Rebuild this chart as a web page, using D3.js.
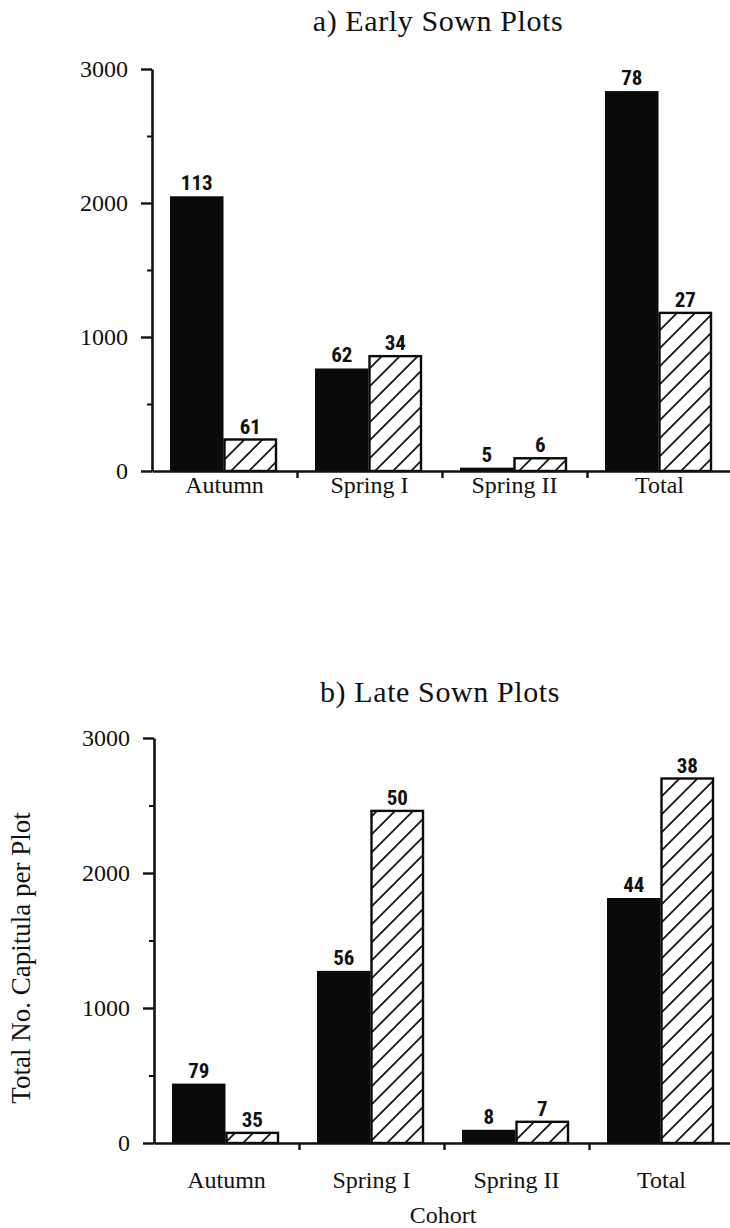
<!DOCTYPE html>
<html>
<head>
<meta charset="utf-8">
<script src="https://cdn.jsdelivr.net/npm/d3@7/dist/d3.min.js"></script>
<style>
  html, body { margin: 0; padding: 0; background: #fff; }
  svg { display: block; }
</style>
</head>
<body>
<svg id="chart" width="730" height="1228"></svg>
<script>
// Cohorts on the x axis
const cohorts = ["Autumn", "Spring I", "Spring II", "Total"];

// a) Early sown plots: capitula per plot (solid and hatched bars)
const earlySolid = [2050, 765, 25, 2835];
const earlyHatched = [235, 857, 95, 1180];
const earlySolidLabels = ["113", "62", "5", "78"];
const earlyHatchedLabels = ["61", "34", "6", "27"];

// b) Late sown plots
const lateSolid = [440, 1275, 98, 1815];
const lateHatched = [75, 2460, 157, 2700];
const lateSolidLabels = ["79", "56", "8", "44"];
const lateHatchedLabels = ["35", "50", "7", "38"];

// Axis ticks
const yTicks = [0, 1000, 2000, 3000];
const yMinorTicks = [500, 1500, 2500];
const yMax = 3000;

const SERIF = '"Liberation Serif", "Times New Roman", Times, serif';
const NARROW = '"Roboto Condensed", "Liberation Sans", sans-serif';
const INK = "#111";

const svg = d3.select("#chart");

// Diagonal hatching for the second bar of each pair
const defs = svg.append("defs");
const pat = defs.append("pattern")
  .attr("id", "hatch")
  .attr("patternUnits", "userSpaceOnUse")
  .attr("width", 18).attr("height", 18);
pat.append("rect").attr("width", 18).attr("height", 18).attr("fill", "#fff");
pat.append("path")
  .attr("d", "M0,18 L18,0 M-4.5,4.5 L4.5,-4.5 M13.5,22.5 L22.5,13.5")
  .attr("stroke", INK).attr("stroke-width", 1.7);

function serifText(sel, size) {
  return sel.style("font-family", SERIF).style("font-size", size + "px").attr("fill", INK);
}

function panel(cfg) {
  const g = svg.append("g");

  const x = d3.scaleBand().domain(cohorts).range([cfg.left, cfg.left + 4 * cfg.band]);
  const xs = d3.scaleBand().domain(["solid", "hatched"]).range([18, 125]);
  const y = d3.scaleLinear().domain([0, yMax]).range([cfg.bottom, cfg.top]);
  const xb = d3.scaleLinear().domain([0, 4]).range([cfg.left, cfg.left + 4 * cfg.band]);

  // Title
  serifText(g.append("text"), 30)
    .attr("x", cfg.titleX).attr("y", cfg.titleY)
    .attr("text-anchor", "middle")
    .style("letter-spacing", "0.6px")
    .text(cfg.title);

  const rows = cohorts.map((c, i) => ({
    c, solid: cfg.solid[i], hatched: cfg.hatched[i],
    ls: cfg.solidLabels[i], lh: cfg.hatchedLabels[i]
  }));

  // Solid bars
  g.selectAll(".bs").data(rows).join("rect")
    .attr("x", d => x(d.c) + xs("solid"))
    .attr("width", xs.bandwidth())
    .attr("y", d => y(d.solid))
    .attr("height", d => y(0) - y(d.solid))
    .attr("fill", "#0a0a0a");

  // Hatched bars
  g.selectAll(".bh").data(rows).join("rect")
    .attr("x", d => x(d.c) + xs("hatched") + 1)
    .attr("width", xs.bandwidth() - 2)
    .attr("y", d => y(d.hatched))
    .attr("height", d => y(0) - y(d.hatched))
    .attr("fill", "url(#hatch)")
    .attr("stroke", "#0a0a0a")
    .attr("stroke-width", 2.4);

  // Value labels
  const vlab = sel => sel.style("font-family", NARROW).style("font-weight", "bold")
    .style("font-size", "21px").attr("fill", INK).attr("text-anchor", "middle");
  g.selectAll(".ls").data(rows).join("text").call(vlab)
    .attr("x", d => x(d.c) + xs("solid") + xs.bandwidth() / 2)
    .attr("y", d => y(d.solid) - 6)
    .text(d => d.ls);
  g.selectAll(".lh").data(rows).join("text").call(vlab)
    .attr("x", d => x(d.c) + xs("hatched") + xs.bandwidth() / 2)
    .attr("y", d => y(d.hatched) - 6)
    .text(d => d.lh);

  // Y axis: major and minor ticks
  const ya = g.append("g").attr("transform", `translate(${cfg.left},0)`)
    .call(d3.axisLeft(y).tickValues(yTicks).tickSize(11).tickSizeOuter(0).tickPadding(13).tickFormat(d3.format("d")));
  ya.select(".domain").attr("stroke-width", 2.6).attr("stroke", INK);
  ya.selectAll(".tick line").attr("stroke-width", 2.4).attr("stroke", INK);
  serifText(ya.selectAll(".tick text"), 24);

  const ym = g.append("g").attr("transform", `translate(${cfg.left},0)`)
    .call(d3.axisLeft(y).tickValues(yMinorTicks).tickSize(5).tickSizeOuter(0).tickFormat(""));
  ym.select(".domain").remove();
  ym.selectAll(".tick line").attr("stroke-width", 2).attr("stroke", INK);

  // X axis: boundary ticks between cohorts
  const xa = g.append("g").attr("transform", `translate(0,${cfg.bottom})`)
    .call(d3.axisBottom(xb).tickValues([1, 2, 3]).tickSize(7).tickSizeOuter(0).tickFormat(""));
  xa.select(".domain").attr("stroke-width", 2.6).attr("stroke", INK);
  xa.selectAll(".tick line").attr("stroke-width", 2.4).attr("stroke", INK);

  // Cohort names
  const xl = g.append("g").attr("transform", `translate(0,${cfg.bottom})`)
    .call(d3.axisBottom(x).tickSize(0).tickPadding(cfg.catPad));
  xl.select(".domain").remove();
  serifText(xl.selectAll(".tick text"), 24);
}

panel({
  title: "a) Early Sown Plots", titleX: 438, titleY: 31,
  left: 152, band: 145, top: 69, bottom: 471, catPad: 5,
  solid: earlySolid, hatched: earlyHatched,
  solidLabels: earlySolidLabels, hatchedLabels: earlyHatchedLabels
});

panel({
  title: "b) Late Sown Plots", titleX: 440, titleY: 702,
  left: 154, band: 145, top: 738, bottom: 1143, catPad: 28,
  solid: lateSolid, hatched: lateHatched,
  solidLabels: lateSolidLabels, hatchedLabels: lateHatchedLabels
});

// Axis titles
serifText(svg.append("text"), 27)
  .attr("transform", "translate(30,958) rotate(-90)")
  .attr("text-anchor", "middle")
  .text("Total No. Capitula per Plot");

serifText(svg.append("text"), 24)
  .attr("x", 443).attr("y", 1223)
  .attr("text-anchor", "middle")
  .text("Cohort");
</script>
</body>
</html>
